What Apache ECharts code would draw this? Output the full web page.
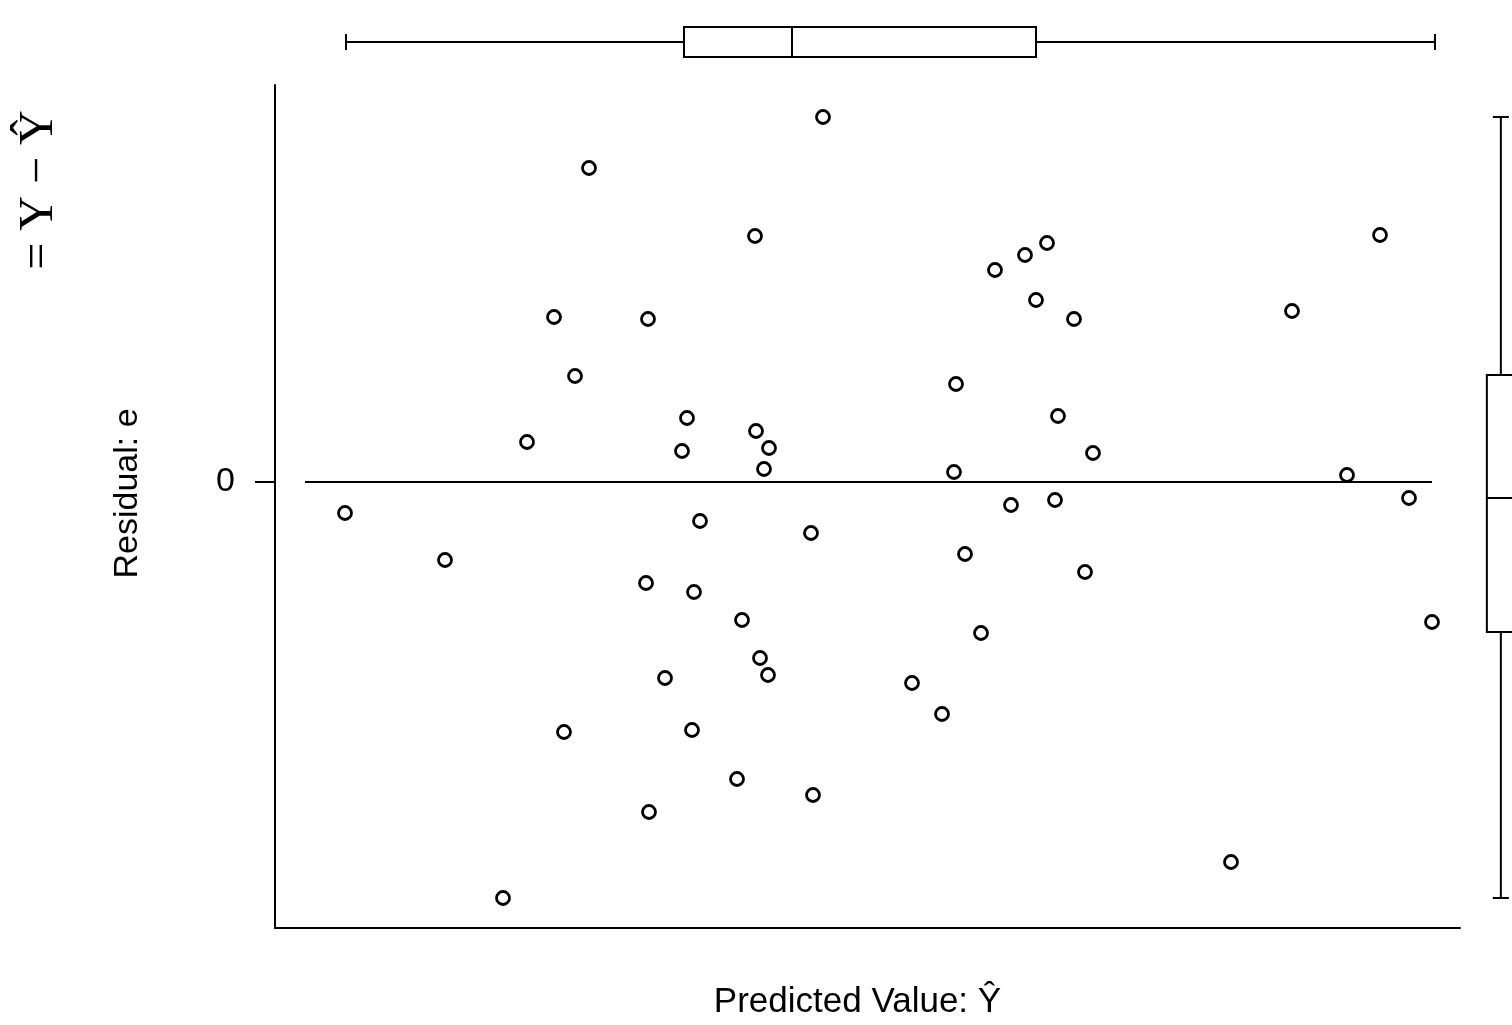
<!DOCTYPE html>
<html>
<head>
<meta charset="utf-8">
<script src="https://cdn.jsdelivr.net/npm/echarts@6/dist/echarts.min.js"></script>
<style>
html,body{margin:0;padding:0;background:#fff;}
#chart{width:1512px;height:1025px;}
</style>
</head>
<body>
<div id="chart"></div>
<script>
// Predicted values (x) and residuals (y)
const predicted = [54.8, 31.4, 48.0, 110.5, 77.2, 75.0, 72.0, 76.1, 101.7, 27.9,
  37.3, 79.9, 30.0, 68.1, 41.2, 78.3, 48.1, 25.2, 49.4, 40.7,
  81.8, 48.9, 67.9, 107.2, 113.4, 78.0, 73.6, 7.0, 42.5, 53.6,
  69.0, 17.0, 81.0, 37.1, 41.9, 46.7, 115.7, 70.6, 48.5, 49.3,
  39.0, 63.7, 66.7, 41.7, 28.9, 46.2, 53.8, 37.4, 95.6, 22.8];
const residual = [3.65, 3.14, 2.46, 2.47, 2.39, 2.27, 2.12, 1.82, 1.71, 1.65,
  1.63, 1.63, 1.06, 0.98, 0.64, 0.66, 0.51, 0.40, 0.34, 0.31,
  0.29, 0.13, 0.10, 0.07, -0.16, -0.18, -0.23, -0.31, -0.39, -0.51,
  -0.72, -0.78, -0.90, -1.01, -1.10, -1.38, -1.40, -1.51, -1.76, -1.93,
  -1.96, -2.01, -2.32, -2.48, -2.50, -2.97, -3.13, -3.30, -3.80, -4.16];
// Box-plot summaries: [lower whisker, Q1, median, Q3, upper whisker]
const predictedBox = [7.1, 40.9, 51.7, 76.1, 116.0];
const residualBox = [-4.16, -1.50, -0.16, 1.07, 3.65];
// Reference line at residual 0
const zeroLineX = [3.0, 115.7];
const zeroLineY = [0, 0];
const yTickValues = [0];
const xRange = [0, 118.5];
const yRange = [-4.46, 3.97];

const INK = '#000';
const SANS = '"Liberation Sans", Arial, sans-serif';
const points = predicted.map((x, i) => [x, residual[i]]);
const zeroLine = zeroLineX.map((x, i) => [x, zeroLineY[i]]);

function boxItem(horizontal) {
  return function (params, api) {
    const v = [api.value(0), api.value(1), api.value(2), api.value(3), api.value(4)];
    const half = 15, cap = 8;
    const st = { stroke: INK, lineWidth: 2, fill: null };
    const P = horizontal
      ? (t) => api.coord([t, 0.5])
      : (t) => api.coord([0.5, t]);
    const p = v.map(P);
    const ch = [];
    const line = (x1, y1, x2, y2) => ch.push({ type: 'line', shape: { x1, y1, x2, y2 }, style: st });
    if (horizontal) {
      const c = p[0][1];
      line(p[0][0], c, p[1][0], c);
      line(p[3][0], c, p[4][0], c);
      ch.push({ type: 'rect', shape: { x: p[1][0], y: c - half, width: p[3][0] - p[1][0], height: 2 * half }, style: { stroke: INK, lineWidth: 2, fill: '#fff' } });
      line(p[2][0], c - half, p[2][0], c + half);
      line(p[0][0], c - cap, p[0][0], c + cap);
      line(p[4][0], c - cap, p[4][0], c + cap);
    } else {
      const c = p[0][0];
      line(c, p[0][1], c, p[1][1]);
      line(c, p[3][1], c, p[4][1]);
      ch.push({ type: 'rect', shape: { x: c - 14, y: p[3][1], width: 30, height: p[1][1] - p[3][1] }, style: { stroke: INK, lineWidth: 2, fill: '#fff' } });
      line(c - 14, p[2][1], c + 16, p[2][1]);
      line(c - cap, p[0][1], c + cap, p[0][1]);
      line(c - cap, p[4][1], c + cap, p[4][1]);
    }
    return { type: 'group', children: ch };
  };
}

const chart = echarts.init(document.getElementById('chart'));
chart.setOption({
  backgroundColor: '#fff',
  animation: false,
  grid: [
    { left: 275, right: 52, top: 85, bottom: 97, outerBoundsMode: 'none' },
    { left: 275, right: 52, top: 12, height: 60, outerBoundsMode: 'none' },
    { left: 1473, right: 0, top: 85, bottom: 97, outerBoundsMode: 'none' }
  ],
  xAxis: [
    {
      gridIndex: 0, type: 'value', min: xRange[0], max: xRange[1],
      name: 'Predicted Value: Ŷ', nameLocation: 'middle', nameGap: 57,
      nameTextStyle: { fontFamily: SANS, fontSize: 35, color: INK, padding: [0, 20, 0, 0] },
      axisLine: { show: true, onZero: false, lineStyle: { color: INK, width: 2 } },
      axisTick: { show: false }, axisLabel: { show: false }, splitLine: { show: false }
    },
    { gridIndex: 1, type: 'value', min: xRange[0], max: xRange[1], show: false },
    // 39px-wide strip; box centre (0.5) falls 28px in, i.e. at x ≈ 1501
    { gridIndex: 2, type: 'value', min: 0, max: 0.7, show: false }
  ],
  yAxis: [
    {
      gridIndex: 0, type: 'value', min: yRange[0], max: yRange[1],
      name: 'Residual: e', nameLocation: 'middle', nameGap: 130, nameRotate: 90,
      nameTextStyle: { fontFamily: SANS, fontSize: 34, color: INK, padding: [0, 0, 0, 26] },
      axisLine: { show: true, onZero: false, lineStyle: { color: INK, width: 2 } },
      axisTick: { show: true, length: 20, customValues: yTickValues, lineStyle: { color: INK, width: 2 } },
      axisLabel: { show: true, customValues: yTickValues, margin: 40, fontFamily: SANS, fontSize: 34, color: INK },
      splitLine: { show: false }
    },
    { gridIndex: 1, type: 'value', min: 0, max: 1, show: false },
    { gridIndex: 2, type: 'value', min: yRange[0], max: yRange[1], show: false }
  ],
  graphic: [{
    type: 'text', x: 39, y: 190, rotation: Math.PI / 2,
    style: { text: '= Y − Ŷ', font: '48px "Liberation Serif", "DejaVu Serif", serif', fill: INK, align: 'center', verticalAlign: 'middle' }
  }],
  series: [
    {
      type: 'line', xAxisIndex: 0, yAxisIndex: 0, data: zeroLine, symbol: 'none',
      lineStyle: { color: INK, width: 2 }, silent: true
    },
    {
      type: 'scatter', xAxisIndex: 0, yAxisIndex: 0, data: points,
      symbol: 'circle', symbolSize: 13,
      itemStyle: { color: '#fff', borderColor: INK, borderWidth: 2.8, opacity: 1 }
    },
    {
      type: 'custom', xAxisIndex: 1, yAxisIndex: 1, data: [predictedBox],
      renderItem: boxItem(true), encode: { x: [0, 1, 2, 3, 4] }
    },
    {
      type: 'custom', xAxisIndex: 2, yAxisIndex: 2, data: [residualBox],
      renderItem: boxItem(false), encode: { y: [0, 1, 2, 3, 4] }
    }
  ]
});
</script>
</body>
</html>
